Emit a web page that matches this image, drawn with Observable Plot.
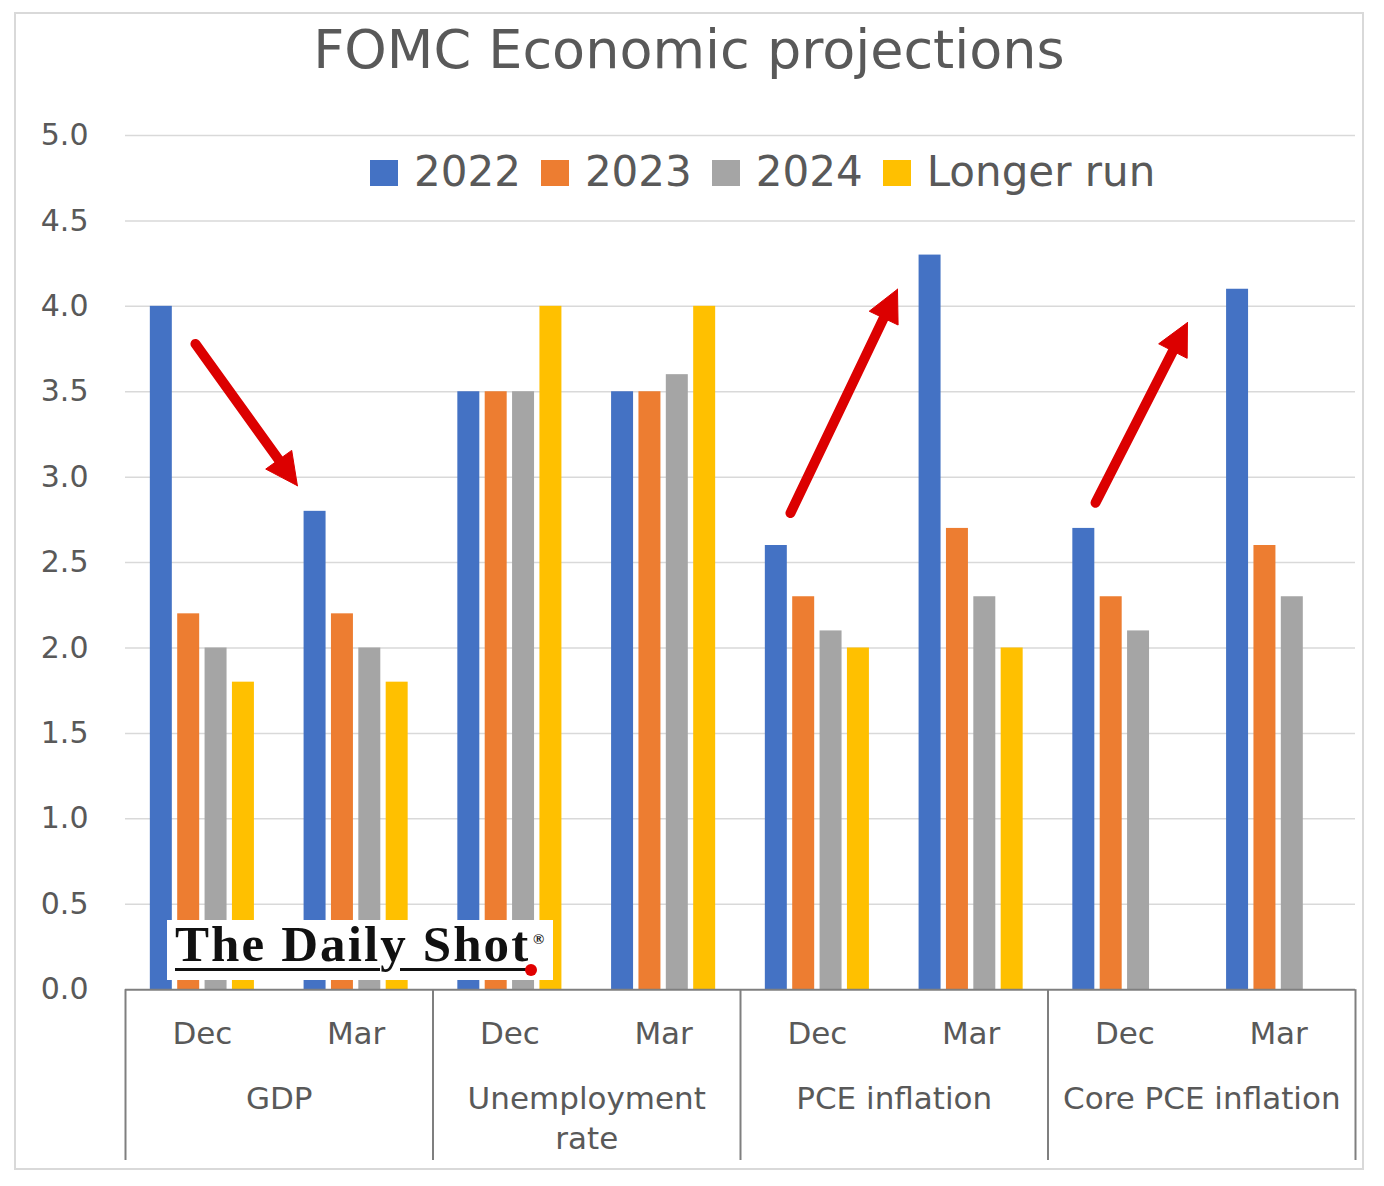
<!DOCTYPE html>
<html>
<head>
<meta charset="utf-8">
<script src="https://cdn.jsdelivr.net/npm/d3@7"></script>
<script src="https://cdn.jsdelivr.net/npm/@observablehq/plot@0.6"></script>
<style>
  body { margin: 0; background: #fff; font-family: "DejaVu Sans", sans-serif; }
  #wrap { position: relative; width: 1384px; height: 1186px; overflow: hidden; }
  #frame { position: absolute; left: 14px; top: 12px; width: 1350px; height: 1158px; border: 2px solid #d9d9d9; box-sizing: border-box; }
  #title { position: absolute; left: 0; width: 1378px; top: 23px; text-align: center; font-size: 54px; line-height: 1; color: #595959; white-space: nowrap; }
  #chart { position: absolute; left: 0; top: 100px; }
  #legend { position: absolute; left: 370px; top: 151px; font-size: 42px; line-height: 1; color: #595959; white-space: nowrap; }
  #legend .item { display: inline-block; margin-right: 20px; }
  #legend .sw { display: inline-block; width: 28px; height: 26px; margin-right: 16px; vertical-align: baseline; }
  #logo { position: absolute; left: 167px; top: 920px; width: 386px; height: 60px; background: #fff; }
  #logo .t { position: absolute; left: 8px; top: -1px; font-family: "Liberation Serif", serif; font-weight: bold; font-size: 51px; line-height: 1; letter-spacing: 2.1px; color: #111; white-space: nowrap; }
  #logo .reg { position: absolute; left: 366px; top: 12px; font-family: "Liberation Serif", serif; font-weight: bold; font-size: 15px; line-height: 1; color: #111; }
  #logo .ul { position: absolute; top: 48px; height: 3px; background: #111; }
  #logo .dot { position: absolute; left: 358px; top: 44px; width: 12px; height: 12px; border-radius: 50%; background: #e00000; }
</style>
</head>
<body>
<div id="wrap">
  <div id="frame"></div>
  <div id="title">FOMC Economic projections</div>
  <div id="chart"></div>
  <div id="legend"></div>
  <div id="logo">
    <span class="t">The Daily Shot</span>
    <span class="reg">®</span>
    <div class="ul" style="left:8px;width:205px"></div>
    <div class="ul" style="left:233px;width:128px"></div>
    <div class="dot"></div>
  </div>
</div>
<script>
// ---- data ----
const groupLabels = ["GDP", "Unemployment\nrate", "PCE inflation", "Core PCE inflation"];
const meetings = ["Dec", "Mar"];
const seriesNames = ["2022", "2023", "2024", "Longer run"];
const seriesColors = ["#4472C4", "#ED7D31", "#A5A5A5", "#FFC000"];
// values per column: GDP Dec, GDP Mar, Unemp Dec, Unemp Mar, PCE Dec, PCE Mar, Core Dec, Core Mar
const s2022 = [4.0, 2.8, 3.5, 3.5, 2.6, 4.3, 2.7, 4.1];
const s2023 = [2.2, 2.2, 3.5, 3.5, 2.3, 2.7, 2.3, 2.6];
const s2024 = [2.0, 2.0, 3.5, 3.6, 2.1, 2.3, 2.1, 2.3];
const sLong = [1.8, 1.8, 4.0, 4.0, 2.0, 2.0, null, null];
const yTicks = [0, 0.5, 1.0, 1.5, 2.0, 2.5, 3.0, 3.5, 4.0, 4.5, 5.0];
// annotation arrows (x in column units, y in percent); arrow tip at (x2, y2)
const arrowData = [
  { x1: 0.455, y1: 3.78, x2: 1.118, y2: 2.95 },
  { x1: 4.325, y1: 2.79, x2: 5.021, y2: 4.10 },
  { x1: 6.309, y1: 2.85, x2: 6.907, y2: 3.905 }
];

// ---- layout ----
const W = 1384, H = 1070, ML = 125, MR = 29, MT = 35, MB = 10;
const NCOL = 8;
const STEP = 0.178, BW = 0.143;
const KX = (W - ML - MR) / NCOL, KY = (H - MT - MB) / 6;
const RED = "#dc0000";

const allSeries = [s2022, s2023, s2024, sLong];
const rows = [];
allSeries.forEach((vals, j) => {
  vals.forEach((v, g) => {
    if (v == null) return;
    const c = g + 0.5 + (j - 1.5) * STEP;
    rows.push({ series: seriesNames[j], value: v, x1: c - BW / 2, x2: c + BW / 2 });
  });
});

const meetingRows = d3.range(NCOL).map(g => ({ x: g + 0.5, text: meetings[g % 2] }));
const groupRows = groupLabels.map((t, k) => ({ x: 2 * k + 1, text: t }));

// arrow heads as triangles (computed in pixel space, then back to data units)
const HL = 32, HW = 16;
const shafts = [], heads = [];
arrowData.forEach((a, i) => {
  const dxp = (a.x2 - a.x1) * KX, dyp = (a.y2 - a.y1) * KY;
  const len = Math.hypot(dxp, dyp);
  const ux = dxp / len, uy = dyp / len;
  const bx = -ux * HL, by = -uy * HL;
  const px = -uy * HW, py = ux * HW;
  shafts.push({ x1: a.x1, y1: a.y1, x2: a.x2 + (bx * 0.8) / KX, y2: a.y2 + (by * 0.8) / KY });
  heads.push({ id: i, x: a.x2, y: a.y2 },
    { id: i, x: a.x2 + (bx + px) / KX, y: a.y2 + (by + py) / KY },
    { id: i, x: a.x2 + (bx - px) / KX, y: a.y2 + (by - py) / KY },
    { id: i, x: a.x2, y: a.y2 });
});

const chart = Plot.plot({
  width: W, height: H,
  marginLeft: ML, marginRight: MR, marginTop: MT, marginBottom: MB,
  x: { domain: [0, NCOL], axis: null },
  y: { domain: [-1, 5], axis: null },
  color: { domain: seriesNames, range: seriesColors },
  style: { fontFamily: "DejaVu Sans", color: "#595959", background: "transparent", overflow: "visible" },
  marks: [
    Plot.ruleY(yTicks.filter(d => d > 0), { stroke: "#d9d9d9", strokeWidth: 1.5 }),
    Plot.rectY(rows, { x1: "x1", x2: "x2", y1: 0, y2: "value", fill: "series" }),
    Plot.ruleY([0], { stroke: "#7f7f7f", strokeWidth: 2 }),
    Plot.ruleX([0, 2, 4, 6, 8], { y1: -1, y2: 0, stroke: "#7f7f7f", strokeWidth: 2 }),
    Plot.text(yTicks, { x: 0, y: d => d, text: d => d.toFixed(1), textAnchor: "end", dx: -37, fontSize: 30, fill: "#595959" }),
    Plot.text(meetingRows, { x: "x", y: 0, dy: 44, text: "text", fontSize: 31, fill: "#595959" }),
    Plot.text(groupRows, { x: "x", y: 0, dy: 91, text: "text", lineAnchor: "top", lineHeight: 1.29, fontSize: 31, fill: "#595959" }),
    Plot.link(shafts, { x1: "x1", y1: "y1", x2: "x2", y2: "y2", stroke: RED, strokeWidth: 10, strokeLinecap: "round" }),
    Plot.line(heads, { x: "x", y: "y", z: "id", fill: RED, stroke: RED, strokeWidth: 1, strokeLinejoin: "miter" })
  ]
});
document.getElementById("chart").appendChild(chart);

// legend built from the same series arrays
const legend = document.getElementById("legend");
seriesNames.forEach((name, j) => {
  const item = document.createElement("span");
  item.className = "item";
  const sw = document.createElement("span");
  sw.className = "sw";
  sw.style.background = seriesColors[j];
  item.appendChild(sw);
  item.appendChild(document.createTextNode(name));
  legend.appendChild(item);
});
</script>
</body>
</html>
